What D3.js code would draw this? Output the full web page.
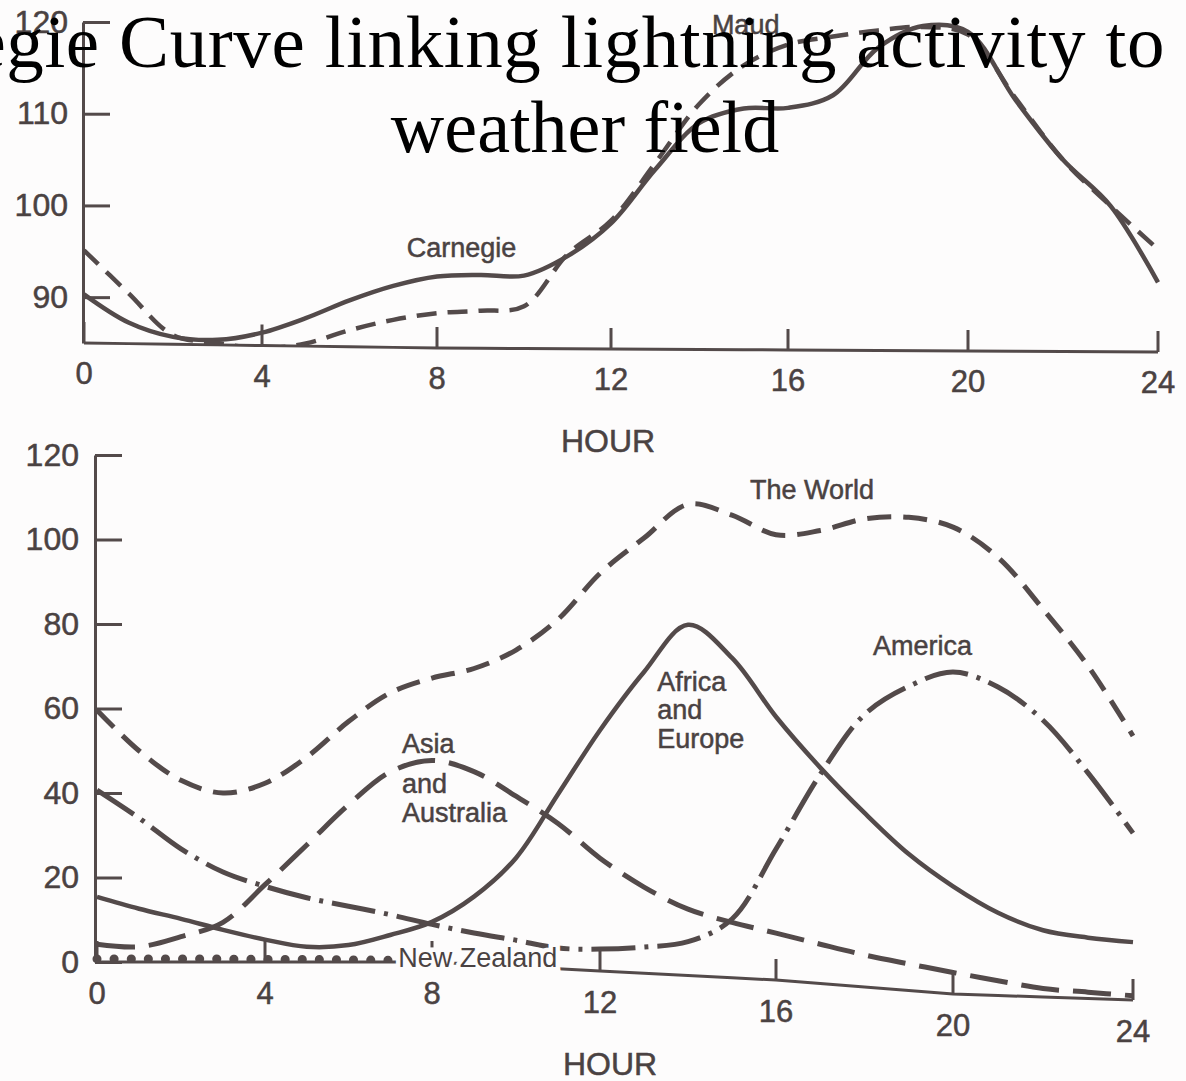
<!DOCTYPE html>
<html lang="en">
<head>
<meta charset="utf-8">
<title>Carnegie Curve</title>
<script src="https://d3js.org/d3.v7.min.js"></script>
<style>
  body { margin: 0; background: #fdfcfc; }
  svg { display: block; }
  .tick text { font-family: "Liberation Sans", Arial, sans-serif; fill: #4a4242; stroke: #4a4242; stroke-width: 0.5px; }
  .lbl { font-family: "Liberation Sans", Arial, sans-serif; fill: #4a4242; font-size: 27px; }
  .axtitle { font-family: "Liberation Sans", Arial, sans-serif; fill: #4a4242; font-size: 32px; stroke: #4a4242; stroke-width: 0.5px; }
  .title { font-family: "Liberation Serif", "Times New Roman", serif; font-size: 74px; fill: #000; }
</style>
</head>
<body>
<div id="chart"></div>
<script>
// hours of the day (UT)
const hours = [0,1,2,3,4,5,6,7,8,9,10,11,12,13,14,15,16,17,18,19,20,21,22,23,24];
const hourTicks = [0, 4, 8, 12, 16, 20, 24];

// top panel: potential gradient, percent of mean
const topTicks = [90, 100, 110, 120];
const carnegie = [90.3, 87.3, 85.8, 85.55, 86.4, 88.05, 90.05, 91.7, 92.8, 93.0, 92.95, 95.1, 98.7,
  104.6, 109.7, 111.3, 111.4, 112.8, 118.0, 120.4, 119.8, 112.4, 105.9, 100.9, 92.6];
const maud = [95.1, 90.5, 86.0, 85.2, 84.7, 85.3, 86.8, 88.0, 88.8, 89.1, 89.6, 95.3, 99.0,
  105.3, 111.8, 116.0, 118.3, 119.2, 119.9, 120.3, 119.5, 112.6, 105.9, 100.9, 96.2];

// bottom panel: thunderstorm area by region
const bottomTicks = [0, 20, 40, 60, 80, 100, 120];
const world = [59.6, 50.0, 43.0, 40.0, 42.3, 48.5, 56.9, 63.7, 67.2, 70.0, 74.9, 82.7, 94.1,
  103.0, 111.5, 109.5, 105.4, 107.2, 110.8, 112.0, 110.5, 103.7, 91.8, 78.7, 62.5];
const asiaAus = [4.2, 3.6, 6.0, 9.4, 18.3, 27.7, 37.2, 45.0, 47.7, 45.6, 40.3, 34.4, 26.7,
  20.4, 15.7, 13.1, 11.1, 9.3, 7.6, 6.3, 5.1, 3.5, 2.0, 1.5, 1.0];
const africaEur = [15.4, 12.6, 10.2, 7.6, 5.3, 3.6, 4.0, 6.4, 9.5, 16.0, 25.7, 41.3, 57.0,
  71.3, 83.0, 75.7, 62.3, 51.1, 41.2, 32.3, 25.5, 19.6, 15.8, 14.4, 13.7];
const america = [40.7, 34.1, 26.8, 21.3, 17.9, 15.2, 13.2, 11.2, 8.9, 7.4, 6.2, 4.9, 5.2,
  6.2, 8.0, 13.9, 31.0, 49.5, 64.5, 72.0, 76.2, 73.0, 65.5, 53.4, 39.5];
const newZealand = [0.7, 0.7, 0.7, 0.7, 0.6, 0.6, 0.5, 0.4, null, null, null, null, null,
  null, null, null, null, null, null, null, null, null, null, null, null];

const ink = "#534a4a";
const width = 1186, height = 1081;

const svg = d3.select("#chart").append("svg")
  .attr("width", width)
  .attr("height", height)
  .style("background", "#fdfcfc");

// the photographed page sags toward the right, "drop" follows the bent baseline
function panel(cfg) {
  const g = svg.append("g");
  const x = d3.scaleLinear().domain(hourTicks).range(cfg.xRange);
  const y = d3.scaleLinear().domain(cfg.yDomain).range(cfg.yRange);
  const drop = d3.scaleLinear().domain(cfg.dropAt).range(cfg.dropBy);
  const base = y(cfg.yDomain[0]);

  const yAxis = g.append("g")
    .attr("transform", `translate(${cfg.axisX},0)`)
    .call(d3.axisLeft(y).tickValues(cfg.yTicks).tickSize(-27).tickSizeOuter(0)
      .tickPadding(cfg.yPad).tickFormat(d3.format("d")));
  yAxis.selectAll("path, line").attr("stroke", ink).attr("stroke-width", 3);
  yAxis.selectAll("text").style("font-size", "32px");

  const xAxis = g.append("g")
    .attr("transform", `translate(0,${base})`)
    .call(d3.axisBottom(x).tickValues(hourTicks).tickSize(-21).tickSizeOuter(0).tickPadding(cfg.xPad));
  xAxis.select(".domain").remove();
  xAxis.selectAll(".tick").attr("transform", d => `translate(${x(d)},${drop(d)})`);
  xAxis.selectAll("line").attr("stroke", ink).attr("stroke-width", 3);
  xAxis.selectAll("text").style("font-size", "31px");

  g.append("path")
    .datum(hours)
    .attr("d", d3.line().x(h => x(h)).y(h => base + drop(h)))
    .attr("fill", "none")
    .attr("stroke", ink)
    .attr("stroke-width", 3);

  // keep curves above the axis line
  const clipPts = [[0, 0], [width, 0], [width, base + drop(24)]]
    .concat(hours.slice().reverse().map(h => [x(h), base + drop(h)]))
    .concat([[0, base]]);
  svg.append("clipPath").attr("id", cfg.id + "-clip")
    .append("path").attr("d", d3.line()(clipPts) + "Z");

  const line = d3.line()
    .defined(d => d.v != null)
    .x(d => x(d.h))
    .y(d => y(d.v) + drop(d.h))
    .curve(d3.curveCatmullRom.alpha(0.5));

  const curves = g.append("g").attr("clip-path", `url(#${cfg.id}-clip)`);
  cfg.series.forEach(s => {
    curves.append("path")
      .datum(hours.map((h, i) => ({ h: h, v: s.values[i] })))
      .attr("d", line)
      .attr("fill", "none")
      .attr("stroke", ink)
      .attr("stroke-width", s.w)
      .attr("stroke-dasharray", s.dash)
      .attr("stroke-linecap", s.cap || "butt")
      .attr("stroke-linejoin", "round");
  });

  cfg.labels.forEach(l => {
    const t = g.append("text")
      .attr("class", "lbl")
      .attr("x", x(l.h))
      .attr("y", y(l.v) + drop(l.h));
    if (l.halo) {
      t.attr("stroke", "#fdfcfc").attr("stroke-width", 9).attr("paint-order", "stroke");
    } else {
      t.attr("stroke", "#4a4242").attr("stroke-width", 0.5);
    }
    l.lines.forEach((s, i) => {
      t.append("tspan").attr("x", x(l.h)).attr("dy", i === 0 ? 0 : l.gap[i - 1]).text(s);
    });
  });

  g.append("text")
    .attr("class", "axtitle")
    .attr("x", cfg.hourAt[0])
    .attr("y", cfg.hourAt[1])
    .attr("text-anchor", "middle")
    .text("HOUR");
}

panel({
  id: "top",
  xRange: [84, 262, 437, 611, 788, 968, 1158],
  yDomain: [85, 120], yRange: [343, 22],
  dropAt: [0, 8, 24], dropBy: [0, 5, 9],
  axisX: 83, yPad: 15, xPad: 19,
  yTicks: topTicks,
  hourAt: [608, 452],
  series: [
    { values: carnegie, w: 4.5, dash: null },
    { values: maud, w: 4.5, dash: "20,11" }
  ],
  labels: [
    { lines: ["Carnegie"], h: 7.31, v: 94.9 },
    { lines: ["Maud"], h: 14.28, v: 119.4 }
  ]
});

panel({
  id: "bottom",
  xRange: [97, 265, 432, 600, 776, 953, 1133],
  yDomain: [0, 120], yRange: [962, 455],
  dropAt: [0, 4, 8, 12, 16, 20, 24], dropBy: [0, 0, 0, 9, 18, 32, 38],
  axisX: 95, yPad: 16, xPad: 20,
  yTicks: bottomTicks,
  hourAt: [610, 1075],
  series: [
    { values: world, w: 5, dash: "24,12" },
    { values: asiaAus, w: 5, dash: "38,14" },
    { values: africaEur, w: 4.5, dash: null },
    { values: america, w: 5, dash: "44,9,4,9" },
    { values: newZealand, w: 9, dash: "0.1,17", cap: "round" }
  ],
  labels: [
    { lines: ["The World"], h: 15.41, v: 113.5 },
    { lines: ["America"], h: 18.19, v: 78.7 },
    { lines: ["Africa", "and", "Europe"], h: 13.3, v: 67.0, gap: [28, 29] },
    { lines: ["Asia", "and", "Australia"], h: 7.28, v: 49.5, gap: [40, 29] },
    { lines: ["New Zealand"], h: 7.19, v: -1.2, halo: true }
  ]
});

// title laid over the scan
const title = svg.append("text").attr("class", "title");
title.append("tspan").attr("x", 1165).attr("y", 67).attr("text-anchor", "end")
  .style("font-size", "75px").style("letter-spacing", "0.6px")
  .text("Carnegie Curve linking lightning activity to");
title.append("tspan").attr("x", 585).attr("y", 152).attr("text-anchor", "middle")
  .text("weather field");
</script>
</body>
</html>
